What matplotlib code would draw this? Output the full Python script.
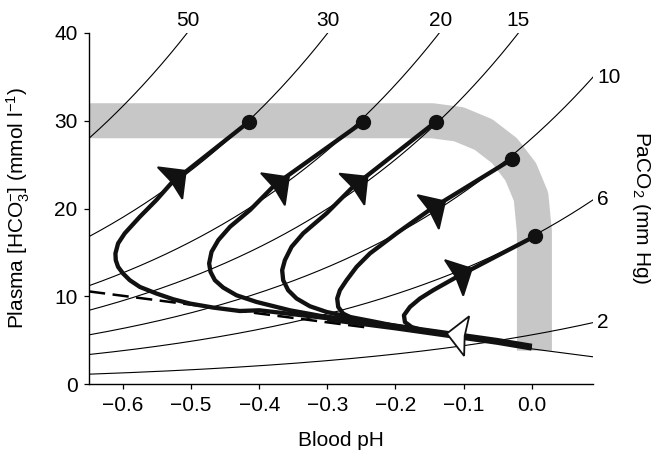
import numpy as np
import matplotlib
matplotlib.use('Agg')
import matplotlib.pyplot as plt
from matplotlib.patches import Polygon
from matplotlib.transforms import IdentityTransform

plt.rcParams['font.family'] = ['Liberation Sans', 'DejaVu Sans']
plt.rcParams['mathtext.fontset'] = 'custom'
plt.rcParams['mathtext.rm'] = 'Liberation Sans'
plt.rcParams['mathtext.it'] = 'Liberation Sans:italic'
plt.rcParams['mathtext.default'] = 'regular'
FS = 15

# PaCO2 isopleths (mm Hg), HCO3 = s * PaCO2 * 10**(k*(pH + 0.65)) fitted to the plot
paco2 = [2, 6, 10, 15, 20, 30, 50]
s_left = 0.56
k_slope = 1.075

# non-bicarbonate buffer line (two ends)
buf_ph = [-0.65, 0.09]
buf_hco3 = [10.55, 3.1]

# grey "normal pH" band, centre line
band_ph = [-0.70, -0.1457, -0.107, -0.0708, -0.0398, -0.016, -0.001, 0.004, 0.004]
band_hco3 = [30.0, 30.0, 29.6, 28.43, 26.58, 24.17, 21.36, 17.34, 3.8]

# shared start of all trajectories (from pH 0.0 up the buffer path)
common_ph = [0.0, -0.05, -0.10, -0.15, -0.20, -0.25, -0.30, -0.35, -0.40]
common_hco3 = [4.2, 4.85, 5.4, 5.95, 6.5, 7.0, 7.5, 7.95, 8.4]

# own part of each trajectory (number of common points used, then points to the dot)
traj = {
    6: (3, [-0.12, -0.1396, -0.1593, -0.1763, -0.1861, -0.1876, -0.1788, -0.1641, -0.1446, -0.11, 0.005],
           [5.66, 5.92, 6.11, 6.49, 7.06, 7.83, 8.78, 9.74, 10.69, 12.2, 16.86]),
    10: (4, [-0.18, -0.218, -0.2424, -0.2621, -0.2768, -0.2841, -0.2856, -0.2816, -0.2718, -0.2571,
             -0.2375, -0.1983, -0.147, -0.0294],
            [6.35, 6.8, 7.06, 7.45, 8.02, 8.78, 9.74, 10.69, 11.83, 13.35, 14.88, 17.17, 20.0, 25.6]),
    15: (4, [-0.2, -0.2375, -0.2718, -0.3012, -0.3257, -0.3452, -0.3576, -0.3649, -0.3664, -0.3624,
             -0.3526, -0.3355, -0.3012, -0.262, -0.1406],
            [6.62, 7.2, 7.71, 8.21, 8.86, 9.74, 10.69, 11.83, 12.97, 14.11, 15.63, 17.17, 19.45, 22.5, 29.9]),
    20: (5, [-0.25, -0.3, -0.3551, -0.3746, -0.404, -0.4334, -0.453, -0.4652, -0.4716, -0.4736, -0.4701,
             -0.4601, -0.4429, -0.4135, -0.377, -0.247],
            [7.08, 7.62, 8.4, 8.78, 9.35, 10.11, 10.99, 11.83, 12.78, 13.74, 15.06, 16.4, 17.92, 19.83, 22.7, 29.9]),
    30: (9, [-0.4285, -0.4677, -0.502, -0.5265, -0.5509, -0.5753, -0.5901, -0.6, -0.6073, -0.6107, -0.6112,
             -0.6073, -0.5975, -0.5753, -0.551, -0.529, -0.415],
            [8.32, 8.71, 9.17, 9.66, 10.31, 11.06, 11.83, 12.59, 13.35, 14.11, 14.88, 16.02, 17.17, 19.06, 20.97,
             22.9, 29.9]),
}
# arrow heads (base point), pointing to the dot
arrow_ph = {30: -0.531, 20: -0.38, 15: -0.264, 10: -0.152, 6: -0.114}
arrow_hco3 = {30: 22.9, 20: 22.2, 15: 22.2, 10: 19.6, 6: 12.1}
# white arrow on the buffer path
white_ph, white_hco3 = -0.0955, 5.46

fig = plt.figure(figsize=(6.51, 4.53), dpi=100)
ax = fig.add_axes([89/651, 69/453, 504/651, 351/453])
ax.set_xlim(-0.65, 0.09)
ax.set_ylim(0, 40)
for sp in ['top', 'right']:
    ax.spines[sp].set_visible(False)
ax.spines['left'].set_linewidth(1.0)
ax.spines['bottom'].set_linewidth(1.0)
ax.tick_params(direction='out', length=3.3, width=0.9, labelsize=FS, pad=5)
ax.set_xticks([-0.6, -0.5, -0.4, -0.3, -0.2, -0.1, 0.0])
ax.set_xticklabels(['\u22120.6', '\u22120.5', '\u22120.4', '\u22120.3', '\u22120.2', '\u22120.1', '0.0'])
ax.set_yticks([0, 10, 20, 30, 40])

ax.plot(band_ph, band_hco3, color='#c6c7c6', lw=25.2, solid_capstyle='butt',
        solid_joinstyle='round', zorder=1)

ph = np.linspace(-0.65, 0.09, 400)
for p in paco2:
    h = s_left * p * 10 ** (k_slope * (ph + 0.65))
    ax.plot(ph, h, color='black', lw=0.8, zorder=2)
    if h[-1] > 40:
        xt = ph[np.argmax(h > 40)]
        ax.annotate(str(p), (xt, 40), xytext=(0, 5), textcoords='offset points',
                    ha='center', va='baseline', fontsize=FS, annotation_clip=False)
    else:
        ax.annotate(str(p), (ph[-1], h[-1]), xytext=(3, 0), textcoords='offset points',
                    ha='left', va='center', fontsize=FS, annotation_clip=False)

# buffer line: dashed to the left, thin solid past the end point
bx = np.array(buf_ph)
by = np.array(buf_hco3)
m = (by[1] - by[0]) / (bx[1] - bx[0])
ax.plot([bx[0], -0.24], [by[0], by[0] + m * (-0.24 - bx[0])], color='black',
        lw=1.8, dashes=(6.5, 3), zorder=2)
ax.plot([0.0, bx[1]], [by[0] + m * (0.0 - bx[0]), by[1]], color='black', lw=0.8, zorder=2)

paths = {}
for p, (nc, ox, oy) in traj.items():
    tx = common_ph[:nc] + ox
    ty = common_hco3[:nc] + oy
    paths[p] = (tx, ty)
    ax.plot(tx, ty, color='#111111', lw=3.1, solid_joinstyle='round',
            solid_capstyle='butt', zorder=3)
    ax.plot(tx[-1], ty[-1], 'o', color='#111111', ms=10, zorder=4)
# several trajectories overlap on the shared part, so it looks heavier
ax.plot(common_ph[:7], common_hco3[:7], color='#111111', lw=5.0,
        solid_capstyle='butt', solid_joinstyle='round', zorder=3)


def head(xy, toward, face):
    p0 = ax.transData.transform(xy)
    p1 = ax.transData.transform(toward)
    u = (p1 - p0) / np.hypot(*(p1 - p0))
    n = np.array([-u[1], u[0]])
    L, W, notch = 20, 20, 2
    verts = [p0 + L * u, p0 + W * n, p0 + notch * u, p0 - W * n]
    ax.add_patch(Polygon(verts, closed=True, transform=IdentityTransform(),
                         fc=face, ec='#111111', lw=1.3, zorder=6, clip_on=False))


for p, (tx, ty) in paths.items():
    head((arrow_ph[p], arrow_hco3[p]), (tx[-1], ty[-1]), '#111111')
head((white_ph, white_hco3), (common_ph[4], common_hco3[4]), 'white')

ax.set_xlabel('Blood pH', fontsize=FS, labelpad=12)
ax.set_ylabel('Plasma [HCO$_3^{\u2212}$] (mmol l$^{\u22121}$)', fontsize=FS, labelpad=16)
fig.text(641/651, 1 - 208/453, 'PaCO$_2$ (mm Hg)', rotation=-90, ha='center',
         va='center', fontsize=FS)

fig.savefig('out.png', dpi=100)
